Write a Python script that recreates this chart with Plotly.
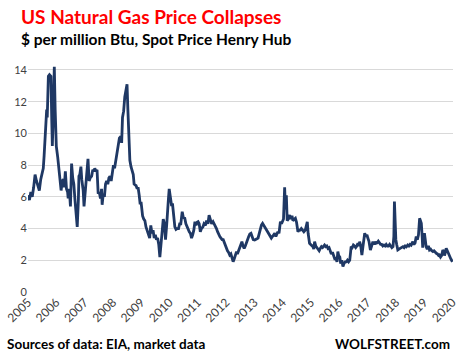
import plotly.graph_objects as go

# decimal-year dates and $/MMBtu values
dates = [
2005.00,2005.05,2005.10,2005.15,2005.20,2005.25,2005.30,2005.36,2005.40,2005.45,2005.50,2005.54,2005.57,2005.60,2005.63,2005.66,2005.68,2005.70,2005.72,2005.76,2005.81,2005.84,2005.86,2005.89,2005.93,2005.96,
2006.00,2006.05,2006.08,2006.13,2006.17,2006.21,2006.25,2006.28,2006.32,2006.36,2006.40,2006.42,2006.46,2006.50,2006.54,2006.58,2006.62,2006.66,2006.70,2006.74,2006.78,2006.80,2006.83,2006.87,2006.90,2006.95,2006.98,
2007.03,2007.08,2007.12,2007.16,2007.20,2007.25,2007.29,2007.33,2007.36,2007.40,2007.44,2007.48,2007.52,2007.56,2007.60,2007.62,2007.66,2007.70,2007.74,2007.78,2007.82,2007.86,2007.90,2007.94,2007.98,
2008.02,2008.06,2008.10,2008.14,2008.19,2008.23,2008.28,2008.31,2008.34,2008.38,2008.42,2008.46,2008.50,2008.53,2008.56,2008.60,2008.64,2008.68,2008.72,2008.75,2008.78,2008.82,2008.86,2008.89,2008.93,2008.96,
2009.00,2009.05,2009.09,2009.13,2009.17,2009.21,2009.25,2009.30,2009.34,2009.38,2009.42,2009.46,2009.50,2009.54,2009.58,2009.62,2009.66,2009.70,2009.72,2009.76,2009.78,2009.82,2009.86,2009.90,2009.93,2009.96,2009.99,
2010.03,2010.07,2010.11,2010.15,2010.19,2010.23,2010.27,2010.32,2010.36,2010.40,2010.45,2010.49,2010.54,2010.58,2010.62,2010.66,2010.70,2010.74,2010.78,2010.82,2010.86,2010.90,2010.94,2010.98,
2011.01,2011.05,2011.09,2011.13,2011.18,2011.22,2011.27,2011.31,2011.36,2011.40,2011.44,2011.49,2011.54,2011.58,2011.62,2011.66,2011.70,2011.74,2011.78,2011.82,2011.86,2011.90,2011.94,2011.98,
2012.01,2012.05,2012.09,2012.13,2012.17,2012.21,2012.25,2012.29,2012.33,2012.37,2012.40,2012.44,2012.48,2012.52,2012.56,2012.60,2012.64,2012.68,2012.72,2012.76,2012.80,2012.84,2012.88,2012.92,2012.96,
2013.01,2013.05,2013.09,2013.13,2013.17,2013.21,2013.25,2013.29,2013.33,2013.36,2013.40,2013.44,2013.48,2013.52,2013.56,2013.60,2013.64,2013.68,2013.72,2013.76,2013.80,2013.83,2013.87,2013.92,2013.96,2013.99,
2014.03,2014.07,2014.10,2014.13,2014.16,2014.20,2014.25,2014.29,2014.33,2014.36,2014.41,2014.45,2014.49,2014.54,2014.58,2014.62,2014.66,2014.70,2014.75,2014.80,2014.84,2014.87,2014.90,2014.95,2014.99,
2015.03,2015.07,2015.10,2015.13,2015.17,2015.21,2015.25,2015.29,2015.33,2015.37,2015.41,2015.45,2015.48,2015.52,2015.56,2015.60,2015.64,2015.68,2015.72,2015.76,2015.80,2015.84,2015.88,2015.92,2015.95,2015.98,
2016.02,2016.05,2016.09,2016.13,2016.17,2016.21,2016.25,2016.29,2016.33,2016.37,2016.40,2016.42,2016.46,2016.50,2016.54,2016.58,2016.62,2016.66,2016.70,2016.72,2016.76,2016.80,2016.84,2016.88,2016.90,2016.94,2016.98,
2017.01,2017.05,2017.10,2017.14,2017.19,2017.23,2017.27,2017.30,2017.34,2017.38,2017.42,2017.46,2017.50,2017.54,2017.58,2017.62,2017.66,2017.70,2017.74,2017.78,2017.82,2017.86,2017.90,2017.93,2017.95,2017.97,
2018.00,2018.03,2018.07,2018.11,2018.15,2018.19,2018.25,2018.29,2018.33,2018.37,2018.42,2018.46,2018.50,2018.54,2018.60,2018.64,2018.68,2018.72,2018.76,2018.80,2018.84,2018.87,2018.90,2018.93,2018.95,2018.98,
2019.01,2019.04,2019.07,2019.11,2019.15,2019.19,2019.23,2019.27,2019.31,2019.35,2019.39,2019.43,2019.47,2019.51,2019.54,2019.58,2019.62,2019.66,2019.70,2019.72,2019.75,2019.78,2019.82,2019.86,2019.90,2019.94,2019.97,
2020.00]

prices = [
6.1,5.8,6.3,6.0,6.6,7.4,7.0,6.65,6.4,7.1,7.5,7.8,8.6,9.8,10.3,11.5,11.0,13.4,13.6,13.7,13.6,10.8,9.2,11.0,14.2,11.5,
9.2,8.5,8.0,7.1,6.4,7.0,7.1,6.6,7.6,6.5,6.3,5.9,6.5,5.4,8.1,7.2,6.8,5.8,4.9,4.1,5.8,7.3,7.4,7.9,7.1,6.4,5.4,
6.5,7.5,8.4,7.0,7.2,7.3,7.7,7.6,7.8,7.6,7.7,6.2,6.3,5.9,6.5,5.5,6.2,6.0,6.8,7.0,6.8,7.2,7.3,7.0,7.4,
8.0,7.8,8.3,8.6,9.4,9.7,9.8,9.4,11.0,11.4,12.3,12.6,13.1,11.5,9.6,8.3,7.9,7.7,7.4,6.8,6.75,6.7,6.5,6.6,6.1,5.6,
5.6,4.8,4.6,4.5,4.1,3.9,3.6,3.4,4.2,3.7,3.9,3.4,3.6,3.3,3.4,3.0,2.2,2.9,3.1,3.9,4.6,4.3,3.3,4.2,5.4,5.8,6.5,
5.9,5.5,5.5,4.8,4.1,3.95,4.0,4.0,4.3,4.3,5.06,4.7,4.65,4.3,4.1,3.9,3.8,3.7,3.4,3.6,3.9,4.43,4.2,4.4,
4.43,4.3,3.8,4.0,4.1,4.3,4.2,4.5,4.3,4.85,4.6,4.3,4.43,4.3,4.1,4.0,3.8,3.6,3.5,3.4,3.3,3.3,3.1,3.0,
2.86,2.6,2.5,2.33,2.4,2.1,1.91,2.1,2.3,2.55,2.4,2.6,2.86,3.0,3.17,2.9,2.75,2.9,3.1,3.4,3.5,3.66,3.7,3.5,3.3,
3.28,3.3,3.35,3.4,3.7,3.9,4.22,4.33,4.2,4.1,4.0,3.9,3.7,3.6,3.5,3.4,3.5,3.6,3.7,3.5,3.7,3.8,3.7,4.43,4.3,4.5,
4.6,6.6,5.2,6.1,4.5,4.6,4.85,4.6,4.8,4.5,4.6,4.65,4.4,3.8,3.9,3.9,4.0,3.9,3.8,3.9,4.3,4.43,3.7,3.07,3.0,
2.95,2.86,2.7,3.17,2.9,2.8,2.65,2.6,2.75,2.86,2.8,2.9,2.96,2.86,2.9,2.75,2.8,2.6,2.4,2.5,2.3,2.1,2.12,1.9,2.55,2.3,
2.2,1.8,2.0,1.6,1.8,1.9,1.9,2.0,1.9,2.0,2.5,2.86,2.8,2.96,2.9,2.8,2.9,3.07,2.9,3.17,2.9,2.33,2.9,3.3,3.7,3.5,3.6,
3.4,3.2,2.65,2.9,3.17,3.0,3.17,3.07,3.1,3.2,3.07,3.0,3.0,2.9,2.96,2.9,3.0,2.9,2.9,3.0,2.9,2.8,2.86,3.5,5.7,4.0,
3.3,3.0,2.65,2.7,2.75,2.8,2.86,2.8,2.9,2.85,2.96,2.9,3.0,2.95,3.17,3.0,3.1,3.5,3.3,3.6,4.65,4.5,4.33,3.5,2.8,3.5,
3.7,3.3,2.86,2.7,2.9,2.65,2.7,2.6,2.55,2.6,2.5,2.44,2.4,2.3,2.33,2.2,2.3,2.65,2.5,2.3,2.5,2.75,2.6,2.4,2.23,2.1,2.0,
1.9]

year_ticks = list(range(2005, 2021))
year_labels = [str(y) for y in year_ticks]
y_ticks = [0, 2, 4, 6, 8, 10, 12, 14]

FONT = "Lato, 'Open Sans', sans-serif"

fig = go.Figure()
fig.add_trace(go.Scatter(x=dates, y=prices, mode="lines",
                         line=dict(color="#1f3864", width=2.8), hoverinfo="skip"))

fig.update_layout(
    width=462, height=363,
    margin=dict(l=28, r=9, t=62, b=71, autoexpand=False),
    paper_bgcolor="white", plot_bgcolor="white",
    showlegend=False,
    font=dict(family=FONT, color="#404040"),
    xaxis=dict(range=[2005, 2020.02], tickvals=year_ticks, ticktext=year_labels,
               tickangle=-45, showgrid=False, zeroline=False, showline=False,
               ticks="", automargin=False, tickfont=dict(size=12, color="#404040")),
    yaxis=dict(range=[0, 14.5], tickvals=y_ticks, showgrid=True, gridcolor="#d9d9d9",
               gridwidth=1, zeroline=False, showline=False, ticks="", automargin=False,
               tickfont=dict(size=11, color="#404040")),
    annotations=[
        dict(text="<b>US Natural Gas Price Collapses</b>", xref="paper", yref="paper",
             x=-0.021, y=1.198, xanchor="left", yanchor="middle", showarrow=False,
             font=dict(size=19, color="#ff0000", family=FONT)),
        dict(text="<b>$ per million Btu, Spot Price Henry Hub</b>", xref="paper", yref="paper",
             x=-0.021, y=1.102, xanchor="left", yanchor="middle", showarrow=False,
             font=dict(size=15.5, color="#000000", family=FONT)),
        dict(text="<b>Sources of data: EIA, market data</b>", xref="paper", yref="paper",
             x=-0.054, y=-0.226, xanchor="left", yanchor="middle", showarrow=False,
             font=dict(size=13.5, color="#000000", family=FONT)),
        dict(text="<b>WOLFSTREET.com</b>", xref="paper", yref="paper",
             x=0.997, y=-0.226, xanchor="right", yanchor="middle", showarrow=False,
             font=dict(size=13.5, color="#000000", family=FONT)),
    ],
)

fig.write_html("out.html", config={"displayModeBar": False},
               post_script="document.body.style.margin='0';document.body.style.overflow='hidden';")
